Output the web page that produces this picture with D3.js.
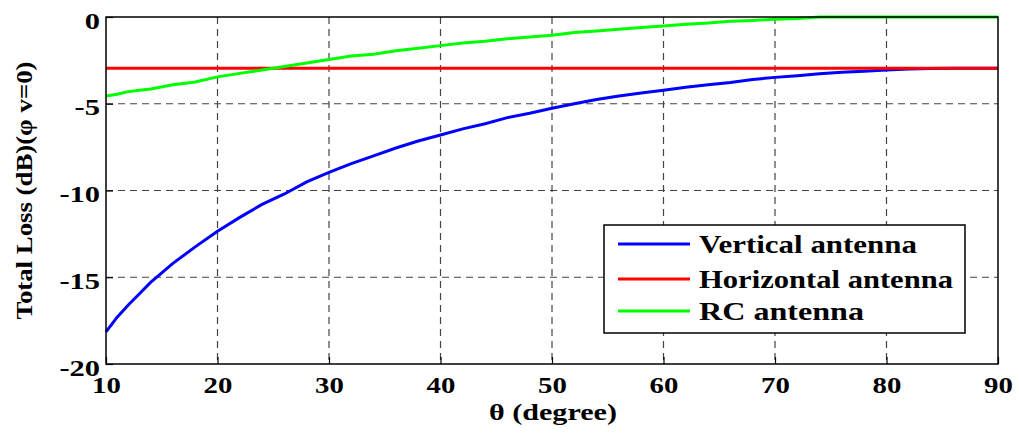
<!DOCTYPE html>
<html>
<head>
<meta charset="utf-8">
<script src="https://cdn.jsdelivr.net/npm/d3@7"></script>
<style>
  body { margin: 0; background: #fff; }
</style>
</head>
<body>
<div class="chart"></div>
<script>
// DATA ------------------------------
const theta = [10, 11, 12, 13, 14, 16, 18, 20, 22, 24, 26, 28, 30, 32, 34, 36, 38, 40, 42, 44, 46, 48, 50,
               52, 54, 56, 58, 60, 62, 64, 66, 68, 70, 72, 74, 76, 78, 80, 82, 84, 86, 88, 90];
const vertical = [-18.15, -17.3, -16.6, -15.95, -15.3, -14.2, -13.25, -12.35, -11.55, -10.8, -10.2, -9.5, -8.95,
                  -8.45, -8.0, -7.55, -7.15, -6.8, -6.45, -6.15, -5.8, -5.55, -5.26,
                  -5.0, -4.75, -4.55, -4.38, -4.22, -4.05, -3.9, -3.78, -3.6, -3.48, -3.38, -3.27,
                  -3.18, -3.12, -3.05, -3.0, -2.97, -2.95, -2.95, -2.95];
const horizontal = theta.map(() => -2.95);
const rc = [-4.55, -4.45, -4.3, -4.22, -4.15, -3.9, -3.75, -3.45, -3.25, -3.05, -2.85, -2.65, -2.45,
            -2.25, -2.15, -1.95, -1.8, -1.65, -1.5, -1.4, -1.25, -1.15, -1.05,
            -0.9, -0.8, -0.7, -0.6, -0.52, -0.42, -0.35, -0.25, -0.2, -0.13, -0.08, 0,
            0, 0, 0, 0, 0, 0, 0, 0];
const xTicks = [10, 20, 30, 40, 50, 60, 70, 80, 90];
const yTicks = [0, -5, -10, -15, -20];
const seriesNames = ["Vertical antenna", "Horizontal antenna", "RC antenna"];
const seriesColors = ["#0000ff", "#ff0000", "#00ff00"];

const FONT = "'Liberation Serif', 'Times New Roman', serif";

// CHART INIT ------------------------------
const margin = ({top: 17, right: 21, bottom: 69, left: 106}),
    width = 1019 - margin.left - margin.right,
    height = 433 - margin.top - margin.bottom;

const svg = d3.select(".chart").append("svg")
    .attr("width", 1019)
    .attr("height", 433)
    .append("g")
    .attr("transform", "translate(" + margin.left + "," + margin.top + ")");

const xScale = d3.scaleLinear().domain([10, 90]).range([0, width]);
const yScale = d3.scaleLinear().domain([-20, 0]).range([height, 0]);

// grid
svg.append("g").selectAll("line")
    .data(xTicks.slice(1, -1))
    .join("line")
    .attr("x1", d => xScale(d)).attr("x2", d => xScale(d))
    .attr("y1", 0).attr("y2", height)
    .attr("stroke", "#444").attr("stroke-width", 1.2)
    .attr("stroke-dasharray", "7,5");
svg.append("g").selectAll("line")
    .data(yTicks.slice(1, -1))
    .join("line")
    .attr("x1", 0).attr("x2", width)
    .attr("y1", d => yScale(d)).attr("y2", d => yScale(d))
    .attr("stroke", "#444").attr("stroke-width", 1.2)
    .attr("stroke-dasharray", "7,5");

// lines
const allSeries = [vertical, horizontal, rc];
const line = d3.line()
    .x((d, i) => xScale(theta[i]))
    .y(d => yScale(d));
allSeries.forEach((s, k) => {
    svg.append("path")
        .datum(s)
        .attr("fill", "none")
        .attr("stroke", seriesColors[k])
        .attr("stroke-width", 3)
        .attr("d", line);
});

// frame
svg.append("rect")
    .attr("width", width).attr("height", height)
    .attr("fill", "none").attr("stroke", "#000").attr("stroke-width", 1.5);

// axes
const xAxis = svg.append("g")
    .attr("transform", "translate(0," + height + ")")
    .call(d3.axisBottom(xScale).tickValues(xTicks).tickSize(-7).tickPadding(6).tickFormat(d => String(d)));
const yAxis = svg.append("g")
    .call(d3.axisLeft(yScale).tickValues(yTicks).tickSize(-7).tickPadding(6).tickFormat(d => String(d)));
[xAxis, yAxis].forEach(a => {
    a.select(".domain").remove();
    a.selectAll("line").attr("stroke", "#000").attr("stroke-width", 1.2);
    a.selectAll("text")
        .style("font-family", FONT).style("font-weight", "bold").style("font-size", "24px")
        .attr("fill", "#000")
        .attr("lengthAdjust", "spacingAndGlyphs");
});
// the original is stretched horizontally
xAxis.selectAll("text").attr("dy", 0).attr("y", 29)
    .each(function() { this.setAttribute("textLength", this.getComputedTextLength() * 1.2); });
yAxis.selectAll("text").attr("dy", 0).attr("y", 11)
    .each(function() { this.setAttribute("textLength", this.getComputedTextLength() * 1.27); });

// axis titles
svg.append("text")
    .attr("x", 447).attr("y", height + 56)
    .attr("text-anchor", "middle")
    .style("font-family", FONT).style("font-weight", "bold").style("font-size", "24px")
    .attr("textLength", 128).attr("lengthAdjust", "spacingAndGlyphs")
    .text("θ (degree)");
svg.append("text")
    .attr("transform", "translate(" + (-74) + "," + (height / 2) + ") rotate(-90)")
    .attr("text-anchor", "middle")
    .style("font-family", FONT).style("font-weight", "bold").style("font-size", "24px")
    .attr("textLength", 258).attr("lengthAdjust", "spacingAndGlyphs")
    .text("Total Loss (dB)(φ v=0)");

// legend
const lg = svg.append("g").attr("transform", "translate(" + (604 - margin.left) + "," + (225 - margin.top) + ")");
lg.append("rect")
    .attr("width", 361).attr("height", 108)
    .attr("fill", "#fff").attr("stroke", "#000").attr("stroke-width", 1.5);
const legendLens = [218, 254, 165];
seriesNames.forEach((name, k) => {
    const yy = [19, 54, 86][k];
    lg.append("line")
        .attr("x1", 14).attr("x2", 86).attr("y1", yy).attr("y2", yy)
        .attr("stroke", seriesColors[k]).attr("stroke-width", 3);
    lg.append("text")
        .attr("x", 95).attr("y", yy + 9)
        .style("font-family", FONT).style("font-weight", "bold").style("font-size", "26px")
        .attr("textLength", legendLens[k]).attr("lengthAdjust", "spacingAndGlyphs")
        .text(name);
});
</script>
</body>
</html>
